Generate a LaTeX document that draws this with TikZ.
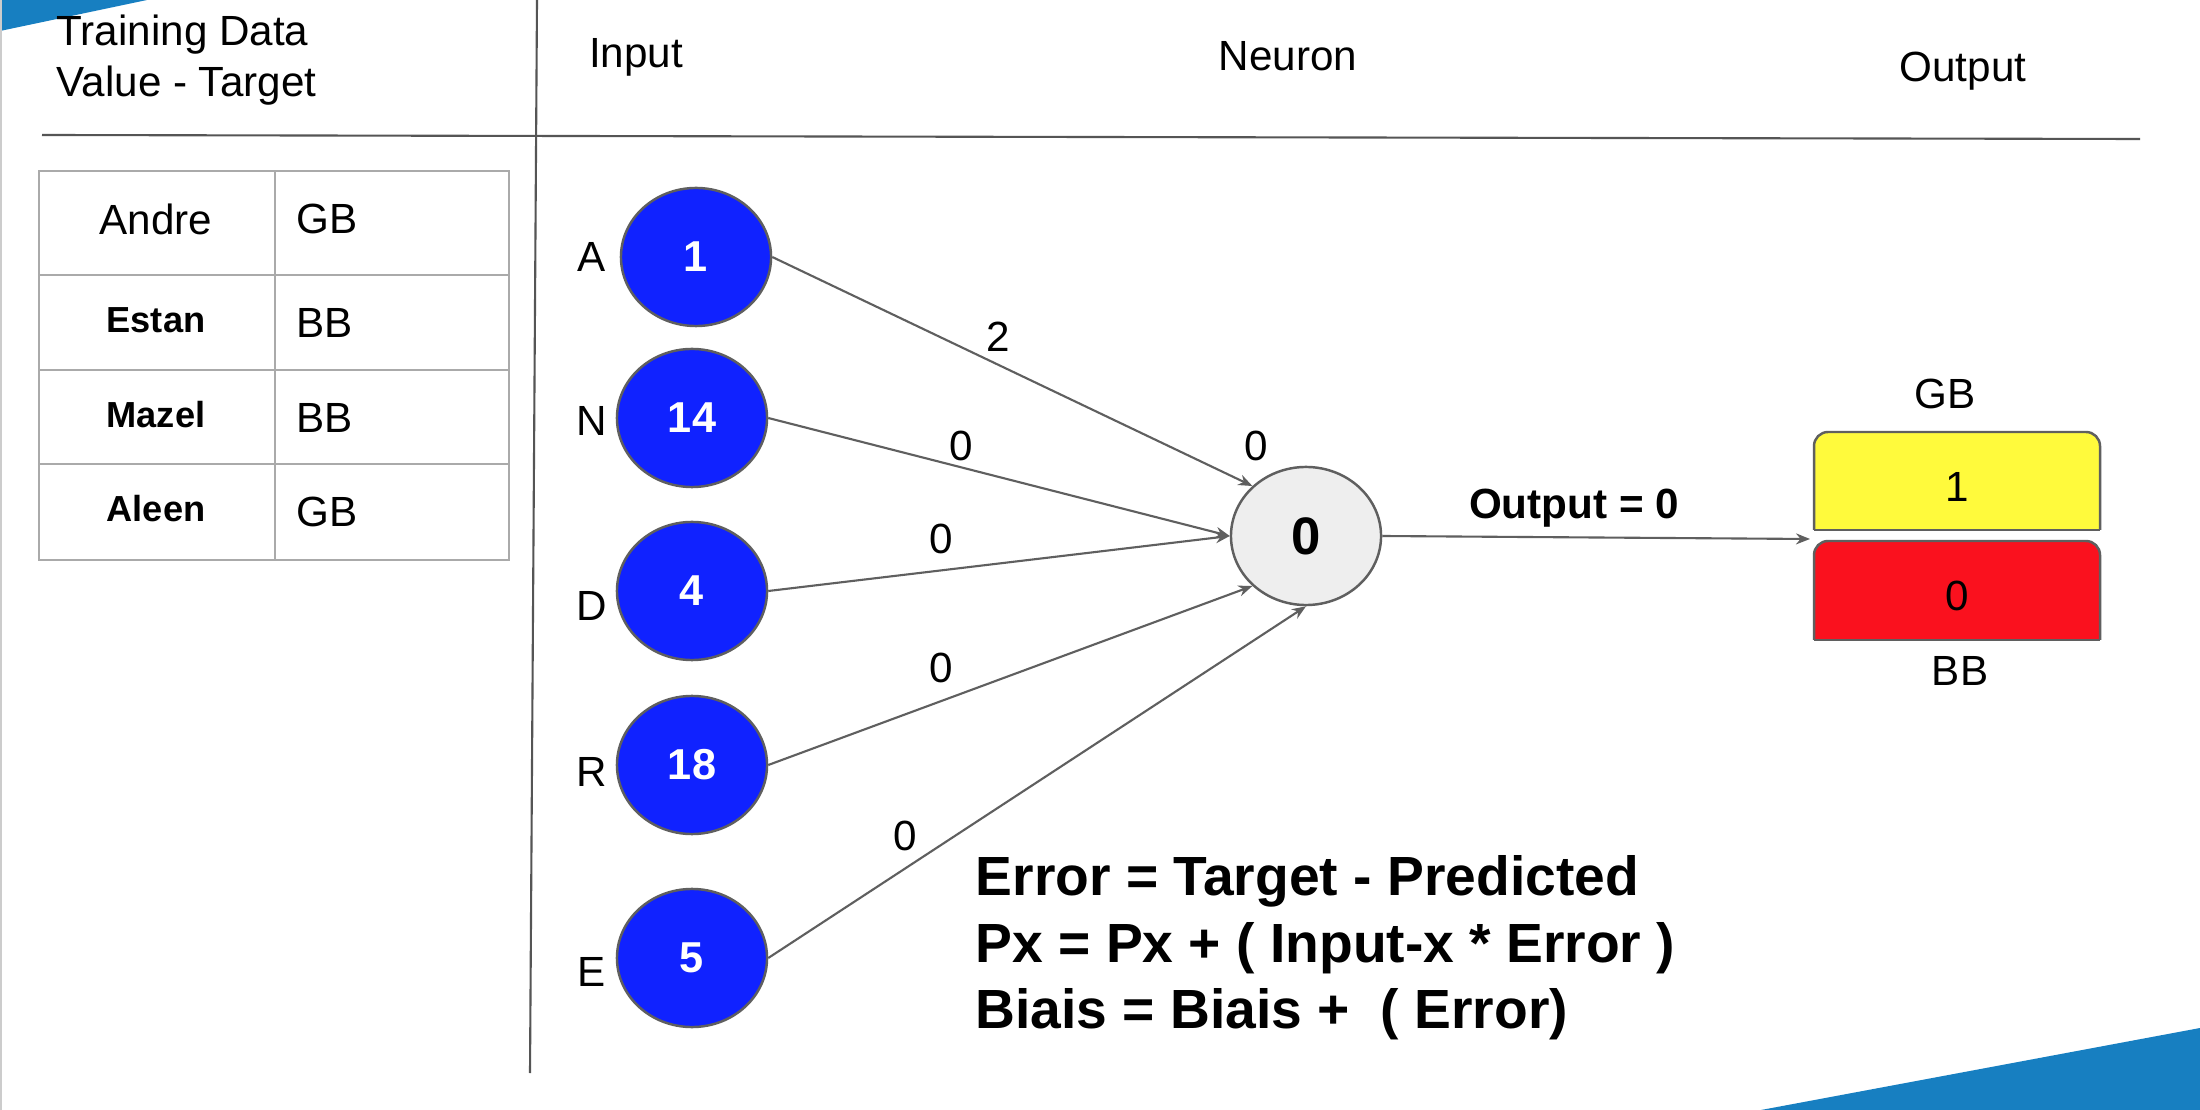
\documentclass[tikz,border=0pt]{standalone}
\usepackage{fontspec}
\setmainfont{Liberation Sans}
\usetikzlibrary{arrows.meta,shapes.geometric}
\definecolor{slideblue}{RGB}{23,127,193}
\definecolor{inblue}{RGB}{16,34,255}
\definecolor{edgegray}{RGB}{95,95,95}
\definecolor{linegray}{RGB}{85,85,85}
\definecolor{tablegray}{RGB}{170,170,170}
\definecolor{neurongray}{RGB}{238,238,238}
\definecolor{gbyellow}{RGB}{255,250,60}
\definecolor{bbred}{RGB}{250,17,30}
\begin{document}
\begin{tikzpicture}[x=0.01cm,y=-0.01cm,
  txt/.style={font=\fontsize{12}{14.5}\selectfont, inner sep=0},
  bname/.style={font=\bfseries\fontsize{10.3}{12}\selectfont, inner sep=0},
  inp/.style={ellipse, draw=edgegray, line width=0.7pt, fill=inblue, minimum width=1.5cm, minimum height=1.38cm, inner sep=0, text=white, font=\bfseries\fontsize{12.3}{14}\selectfont},
  conn/.style={draw=edgegray, line width=0.6pt, -{Stealth[length=0.14cm,width=0.11cm]}},
  formula/.style={font=\bfseries\fontsize{15.7}{19}\selectfont, inner sep=0, anchor=base west}]
\path[use as bounding box, fill=white] (0,0) rectangle (2200,1110);
% slide decorations
\fill[slideblue] (0,0) -- (147,0) -- (0,31) -- cycle;
\fill[slideblue] (1761,1110) -- (2200,1028) -- (2200,1110) -- cycle;
\draw[tablegray!60, line width=0.6pt] (1,0) -- (1,1110);
% dividers
\draw[linegray, line width=0.6pt] (537,0) -- (530,1073);
\draw[linegray, line width=0.6pt] (42,135) -- (2140,139);
% headers
\node[txt, anchor=base west, align=left] (h1) at (56,46) {Training Data};
\node[txt, anchor=base west, align=left] (h2) at (56,97) {Value - Target};
\node[txt, anchor=base] (hin) at (636,68) {Input};
\node[txt, anchor=base] (hne) at (1288,71) {Neuron};
\node[txt, anchor=base] (hout) at (1963,82) {Output};
% table
\draw[tablegray, line width=0.7pt] (39,171) rectangle (509,560);
\draw[tablegray, line width=0.7pt] (275,171) -- (275,560);
\draw[tablegray, line width=0.7pt] (39,275) -- (509,275);
\draw[tablegray, line width=0.7pt] (39,370) -- (509,370);
\draw[tablegray, line width=0.7pt] (39,464) -- (509,464);
\node[txt] (t1a) at (156,219) {Andre};
\node[txt, anchor=west] (t1b) at (296,219) {GB};
\node[bname] (t2a) at (156,320) {Estan};
\node[txt, anchor=west] (t2b) at (296,323) {BB};
\node[bname] (t3a) at (156,415) {Mazel};
\node[txt, anchor=west] (t3b) at (296,418) {BB};
\node[bname] (t4a) at (156,509) {Aleen};
\node[txt, anchor=west] (t4b) at (296,512) {GB};
% inputs
\node[inp] (A) at (696,257) {1};
\node[inp] (N) at (692,418) {14};
\node[inp] (D) at (692,591) {4};
\node[inp] (R) at (692,765) {18};
\node[inp] (E) at (692,958) {5};
\node[txt] (lA) at (592,257) {A};
\node[txt] (lN) at (592,421) {N};
\node[txt] (lD) at (592,606) {D};
\node[txt] (lR) at (592,772) {R};
\node[txt] (lE) at (592,972) {E};
% neuron
\node[ellipse, draw=edgegray, line width=0.7pt, fill=neurongray, minimum width=1.5cm, minimum height=1.38cm, inner sep=0, font=\bfseries\fontsize{15}{18}\selectfont] (neu) at (1306,536) {0};
% connectors
\draw[conn] (A.east) -- (neu.137);
\draw[conn] (N.east) -- (neu.west);
\draw[conn] (D.east) -- (neu.west);
\draw[conn] (R.east) -- (neu.223);
\draw[conn] (E.east) -- (neu.south);
% weight labels
\node[txt] (w1) at (998,337) {2};
\node[txt] (w2) at (961,446) {0};
\node[txt] (wb) at (1256,446) {0};
\node[txt] (w3) at (941,539) {0};
\node[txt] (w4) at (941,668) {0};
\node[txt] (w5) at (905,836) {0};
% output
\coordinate (outtip) at (1810,539);
\draw[conn] (neu.east) -- (outtip);
\node[txt, font=\bfseries\fontsize{12}{14.5}\selectfont, anchor=base] (outlab) at (1574,519) {Output = 0};
% output boxes
\filldraw[fill=gbyellow, draw=edgegray, line width=0.7pt, rounded corners=0.14cm] (1814,530) -- (1814,432) -- (2100,432) -- (2100,530);
\draw[edgegray, line width=0.7pt] (1814,530) -- (2100,530);
\filldraw[fill=bbred, draw=edgegray, line width=0.7pt, rounded corners=0.14cm] (1814,640) -- (1814,541) -- (2100,541) -- (2100,640);
\draw[edgegray, line width=0.7pt] (1814,640) -- (2100,640);
\node[txt] (gbv) at (1957,487) {1};
\node[txt] (bbv) at (1957,596) {0};
\node[txt] (gbl) at (1945,394) {GB};
\node[txt] (bbl) at (1960,671) {BB};
% formulas
\node[formula] (f1) at (975,895) {Error = Target - Predicted};
\node[formula] (f2) at (975,962) {Px = Px + ( Input-x * Error )};
\node[formula] (f3) at (975,1028) {Biais = Biais +\ \ ( Error)};
\end{tikzpicture}
\end{document}
